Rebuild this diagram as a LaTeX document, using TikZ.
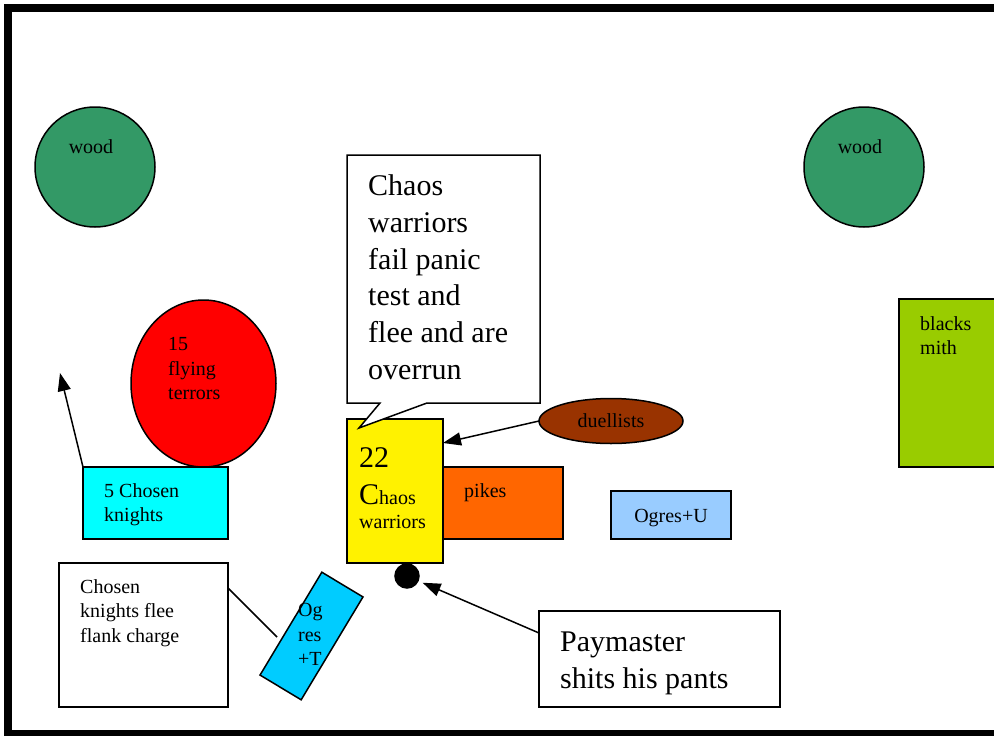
\documentclass[tikz,border=0pt]{standalone}
\usepackage{fontspec}
\setmainfont{Liberation Serif}
\usetikzlibrary{arrows.meta,calc,shapes.geometric}
\definecolor{woodgreen}{HTML}{339966}
\definecolor{smithgreen}{HTML}{99CC00}
\definecolor{knightcyan}{HTML}{00FFFF}
\definecolor{pikeorange}{HTML}{FF6600}
\definecolor{duelbrown}{HTML}{993300}
\definecolor{ogreblue}{HTML}{99CCFF}
\definecolor{ogrecyan}{HTML}{00CCFF}
\newcommand{\smallf}{\fontsize{20}{24.5}\selectfont}
\newcommand{\bigf}{\fontsize{30}{36.8}\selectfont}
\tikzset{
  unit/.style={draw,line width=1.5pt,inner sep=0pt,outer sep=0pt},
  box/.style={unit,anchor=north west},
  lbl/.style={inner sep=0pt,align=left,anchor=north west},
}
\begin{document}
\begin{tikzpicture}[x=1pt,y=-1pt,>={Triangle[length=18pt,width=13pt]},line join=miter,font=\smallf]
\useasboundingbox (0,0) rectangle (994,736);
% table edge
\draw[line width=8pt] (1002,7.5) -- (8,7.5) -- (8,733.5) -- (1002,733.5);

% terrain
\foreach \n/\x in {woodL/95,woodR/864}
  \node[unit,circle,fill=woodgreen,minimum size=120pt] (\n) at (\x,167) {};
\node[inner sep=0pt,anchor=base] (woodLtxt) at (91,153) {wood};
\node[inner sep=0pt,anchor=base] (woodRtxt) at (860,153) {wood};
\node[box,fill=smithgreen,minimum width=110pt,minimum height=168pt] (smith) at (899,299) {};
\node[lbl] (smithtxt) at (920,316.3) {blacks\\mith};

% units
\node[unit,ellipse,fill=red,minimum width=145pt,minimum height=167pt] (terrors) at (203.5,383.5) {};
\node[lbl] (terrorstxt) at (168,337.5) {15\\flying\\terrors};
\node[box,fill=knightcyan,minimum width=145pt,minimum height=72pt] (knights) at (83,467) {};
\node[lbl] (knightstxt) at (104,483.3) {5 Chosen\\knights};
\node[box,fill=yellow,minimum width=96pt,minimum height=144pt] (chaos) at (347,419) {};
\node[lbl] (chaostxt) at (359,447.7) {{\bigf 22}\\[12pt]{\bigf C}haos\\warriors};
\node[box,fill=pikeorange,minimum width=120pt,minimum height=72pt] (pikes) at (443,467) {};
\node[inner sep=0pt,anchor=base west] (pikestxt) at (464,497) {pikes};
\node[unit,ellipse,fill=duelbrown,minimum width=144pt,minimum height=45pt] (duel) at (611,421) {};
\node[inner sep=0pt,anchor=base] (dueltxt) at (611,427) {duellists};
\node[box,fill=ogreblue,minimum width=120pt,minimum height=48pt] (ogreU) at (611,491) {};
\node[inner sep=0pt,anchor=base] (ogreUtxt) at (671,522) {Ogres+U};
\node[unit,circle,fill=black,minimum size=24pt] (paydot) at (407,576) {};
\node[unit,fill=ogrecyan,minimum width=48pt,minimum height=120pt,rotate=-31] (ogreT) at (311.5,636) {};
\node[lbl] (ogreTtxt) at (298,603.2) {Og\\res\\+T};

% notes
\draw[line width=1.5pt,fill=white] (347,155) -- (540,155) -- (540,403) -- (427,403)
  -- (359,428) -- (380,403) -- (347,403) -- cycle;
\node[lbl,font=\bigf] (panic) at (368,174.5) {Chaos\\warriors\\fail panic\\test and\\flee and are\\overrun};
\node[box,fill=white,minimum width=169pt,minimum height=144pt] (fleenote) at (59,563) {};
\node[lbl] (fleetxt) at (80,579.3) {Chosen\\knights flee\\flank charge};
\node[box,fill=white,minimum width=241pt,minimum height=96pt] (paynote) at (539,611) {};
\node[lbl,font=\bigf] (paytxt) at (560,632) {Paymaster\\shits his pants};

% moves
\coordinate (escape) at (60,373);
\coordinate (ogreTside) at (277,637);
\draw[line width=1.5pt,->] (knights.north west) -- (escape);
\draw[line width=1.5pt,->] (duel.west) -- ($(chaos.north east)+(0,24)$);
\draw[line width=1.5pt,->,shorten >=5pt] ($(paynote.north west)+(0,22)$) -- (paydot);
\draw[line width=1.5pt] ($(fleenote.north east)+(0,25)$) -- (ogreTside);
\end{tikzpicture}
\end{document}
